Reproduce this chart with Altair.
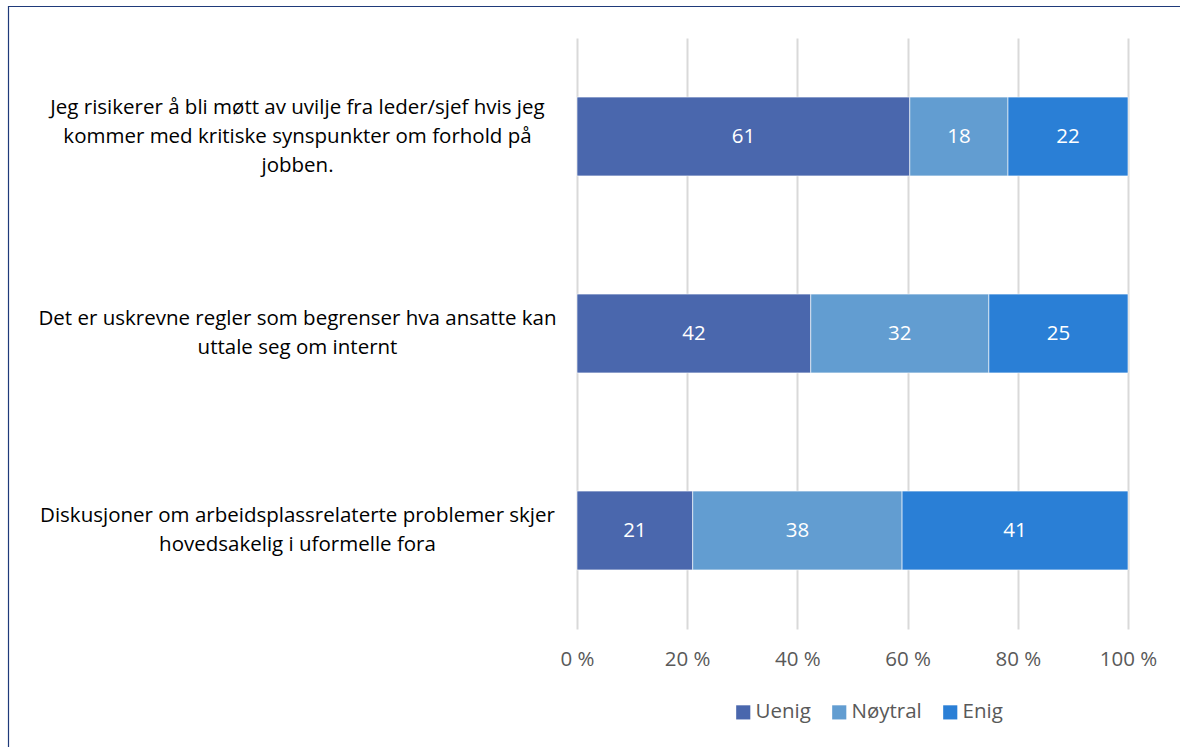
import altair as alt
import pandas as pd

statements = [
    "Jeg risikerer å bli møtt av uvilje fra leder/sjef hvis jeg|kommer med kritiske synspunkter om forhold på|jobben.",
    "Det er uskrevne regler som begrenser hva ansatte kan|uttale seg om internt",
    "Diskusjoner om arbeidsplassrelaterte problemer skjer|hovedsakelig i uformelle fora",
]
categories = ["Uenig", "Nøytral", "Enig"]
uenig = [61, 42, 21]
noytral = [18, 32, 38]
enig = [22, 25, 41]
colors = ["#4a67ad", "#629dd1", "#2a7fd6"]
x_ticks = [0, 0.2, 0.4, 0.6, 0.8, 1.0]

rows = []
for i, s in enumerate(statements):
    for j, (cat, vals) in enumerate(zip(categories, [uenig, noytral, enig])):
        rows.append({"statement": s, "category": cat, "value": vals[i], "ord": j})
df = pd.DataFrame(rows)

FONT = "Open Sans"
FS = 20.5
LH = 29
W, H = 551, 591

y_enc = alt.Y(
    "statement:N",
    sort=statements,
    title=None,
    scale=alt.Scale(paddingInner=0.6, paddingOuter=0.3),
    axis=alt.Axis(
        labelExpr="split(datum.label, '|')",
        labelAlign="center",
        labelBaseline="middle",
        labelPadding=280,
        labelLimit=0,
        labelLineHeight=LH,
        labelFontSize=FS,
        labelColor="#000000",
        labelFont=FONT,
        labelOffset={"expr": f"-(length(split(datum.value, '|')) - 1) * {LH} / 2"},
        ticks=False,
        domain=False,
        grid=False,
    ),
)

bars = alt.Chart(df).mark_bar(stroke="white", strokeWidth=0.6).encode(
    x=alt.X(
        "value:Q",
        stack="normalize",
        title=None,
        scale=alt.Scale(domain=[0, 1], nice=False),
        axis=alt.Axis(
            values=x_ticks,
            labelExpr="format(datum.value * 100, 'd') + ' %'",
            labelFontSize=FS,
            labelColor="#595959",
            labelFont=FONT,
            labelPadding=20,
            labelFlush=False,
            ticks=False,
            domain=False,
            grid=True,
            gridColor="#d9d9d9",
            gridWidth=2,
        ),
    ),
    y=y_enc,
    color=alt.Color(
        "category:N",
        sort=categories,
        scale=alt.Scale(domain=categories, range=colors),
        legend=alt.Legend(
            title=None,
            orient="none",
            direction="horizontal",
            legendX=156,
            legendY=664,
            symbolType="square",
            symbolSize=200,
            symbolStrokeWidth=0,
            labelFontSize=FS,
            labelColor="#595959",
            labelFont=FONT,
            labelOffset=2,
            columnPadding=18,
            symbolOffset=0,
        ),
    ),
    order=alt.Order("ord:Q"),
)

labels = (
    alt.Chart(df)
    .transform_joinaggregate(total="sum(value)", groupby=["statement"])
    .transform_window(
        cum="sum(value)", sort=[alt.SortField("ord")], groupby=["statement"], frame=[None, 0]
    )
    .transform_calculate(mid="(datum.cum - datum.value / 2) / datum.total")
    .mark_text(color="white", fontSize=FS, font=FONT, baseline="middle")
    .encode(
        x=alt.X("mid:Q"),
        y=alt.Y("statement:N", sort=statements),
        text=alt.Text("value:Q"),
    )
)

border = (
    alt.Chart(pd.DataFrame({"a": [0]}))
    .mark_rect(fill=None, stroke="#1f3a7a", strokeWidth=1.2)
    .encode(
        x=alt.value(8.5 - 577),
        x2=alt.value(1200),
        y=alt.value(6.5 - 38),
        y2=alt.value(900),
    )
)

chart = (
    alt.layer(border, bars, labels)
    .properties(
        width=W,
        height=H,
        autosize=alt.AutoSizeParams(type="none"),
        padding={"left": 577, "top": 38, "right": 52, "bottom": 118},
        background="white",
    )
    .configure_view(stroke=None)
)

chart.save("out.html", embed_options={"renderer": "svg", "actions": False})
